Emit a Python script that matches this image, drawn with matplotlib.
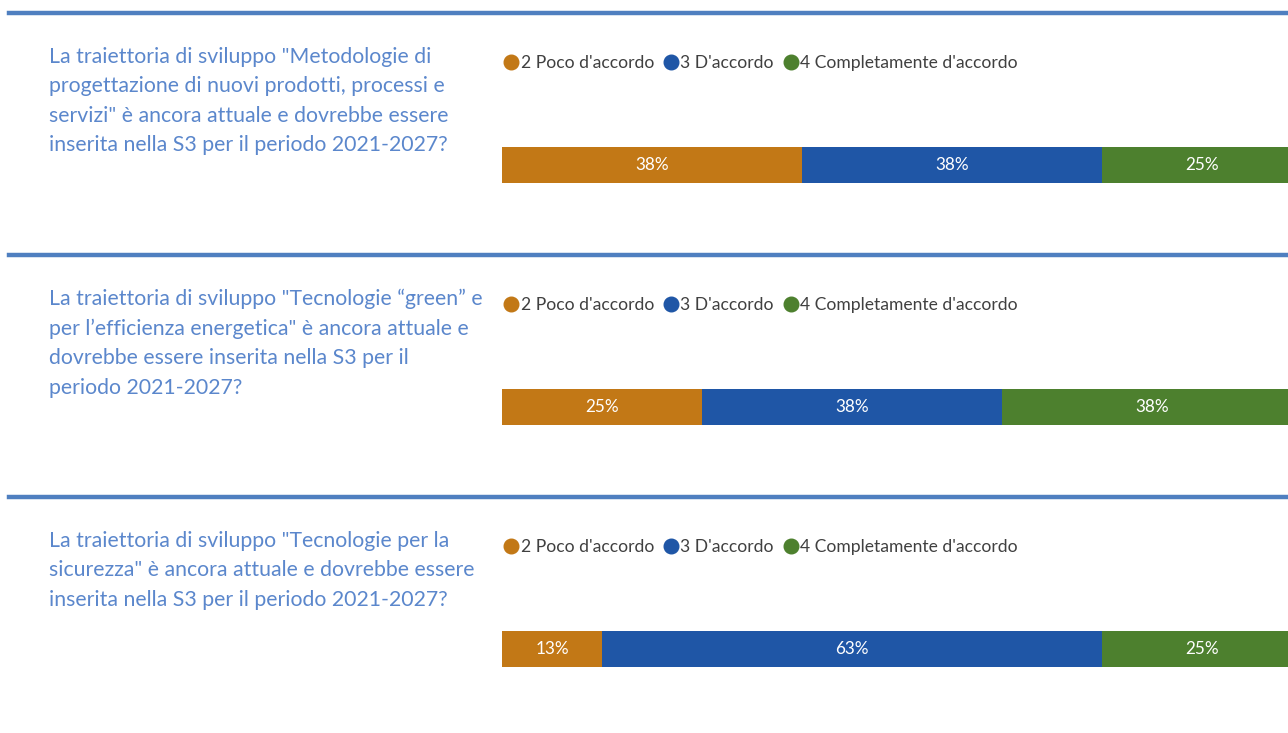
import matplotlib.pyplot as plt
from matplotlib.lines import Line2D

W, H = 1288, 733

questions = [
    'La traiettoria di sviluppo "Metodologie di\nprogettazione di nuovi prodotti, processi e\nservizi" è ancora attuale e dovrebbe essere\ninserita nella S3 per il periodo 2021-2027?',
    'La traiettoria di sviluppo "Tecnologie “green” e\nper l’efficienza energetica" è ancora attuale e\ndovrebbe essere inserita nella S3 per il\nperiodo 2021-2027?',
    'La traiettoria di sviluppo "Tecnologie per la\nsicurezza" è ancora attuale e dovrebbe essere\ninserita nella S3 per il periodo 2021-2027?',
]
categories = ["2 Poco d'accordo", "3 D'accordo", "4 Completamente d'accordo"]
shares = [
    [37.5, 37.5, 25.0],
    [25.0, 37.5, 37.5],
    [12.5, 62.5, 25.0],
]
colors = ['#c27816', '#1f56a6', '#4d802e']

plt.rcParams['font.family'] = ['Lato', 'DejaVu Sans']

fig = plt.figure(figsize=(W / 100, H / 100), dpi=100)
step = 242

for i, (q, vals) in enumerate(zip(questions, shares)):
    off = i * step
    # linea di separazione
    fig.add_artist(Line2D([9 / W, 1], [1 - (13 + off) / H] * 2, lw=3.2,
                          color='#4f7fc0', transform=fig.transFigure))
    fig.text(49 / W, 1 - (47 + off) / H, q, va='top', ha='left',
             fontsize=15.3, color='#5b87cc', linespacing=1.58)

    # barra
    ax = fig.add_axes([502 / W, 1 - (183 + off) / H, 800 / W, 36 / H])
    left = 0
    for v, c in zip(vals, colors):
        ax.barh(0, v, left=left, height=1, color=c)
        ax.text(left + v / 2, 0, f'{int(v + 0.5)}%',
                ha='center', va='center', color='white', fontsize=12.3)
        left += v
    ax.set_xlim(0, 100)
    ax.set_ylim(-0.5, 0.5)
    ax.axis('off')

    handles = [Line2D([], [], marker='o', ls='', color=c, markersize=10.5)
               for c in colors]
    fig.legend(handles, categories, loc='center left',
               bbox_to_anchor=(504 / W, 1 - (63 + off) / H), frameon=False,
               ncol=3, handlelength=0.85, handletextpad=0.1,
               columnspacing=0.55, fontsize=12.6, labelcolor='#404040',
               borderaxespad=0, borderpad=0)

fig.savefig('out.png', dpi=100)
